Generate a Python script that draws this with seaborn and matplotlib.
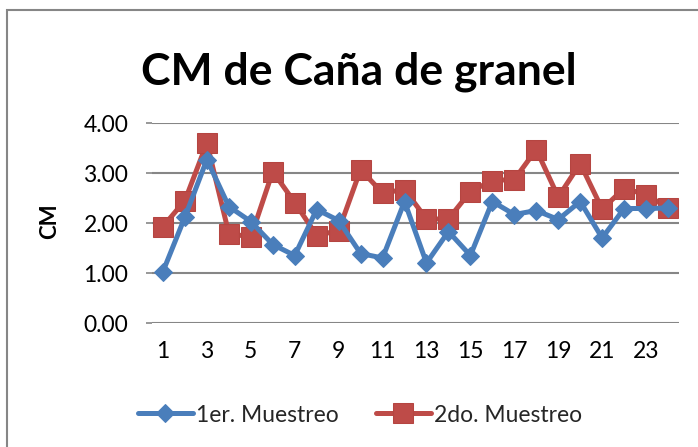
import matplotlib
matplotlib.use("Agg")
import matplotlib.pyplot as plt
import seaborn as sns
import pandas as pd
from matplotlib.patches import Rectangle

muestra = list(range(1, 25))
primer = [1.03, 2.12, 3.27, 2.33, 2.03, 1.57, 1.35, 2.27, 2.05, 1.39, 1.30, 2.43,
          1.20, 1.83, 1.35, 2.43, 2.17, 2.25, 2.07, 2.43, 1.70, 2.29, 2.29, 2.30]
segundo = [1.93, 2.45, 3.60, 1.79, 1.72, 3.03, 2.41, 1.75, 1.85, 3.07, 2.60, 2.67,
           2.08, 2.08, 2.63, 2.85, 2.87, 3.47, 2.52, 3.19, 2.28, 2.69, 2.57, 2.30]
series_names = ["1er. Muestreo", "2do. Muestreo"]
title = "CM de Caña de granel"
ylabel = "CM"
yticks = [0, 1, 2, 3, 4]
xticks = list(range(1, 24, 2))

sns.set_theme(style="white")
plt.rcParams["font.family"] = ["Lato", "DejaVu Sans"]

df1 = pd.DataFrame({"x": muestra, "y": primer})
df2 = pd.DataFrame({"x": muestra, "y": segundo})

W, H = 698, 447
fig = plt.figure(figsize=(W / 100, H / 100), dpi=100)
ax = fig.add_axes([152 / W, 1 - 323 / H, (679 - 152) / W, (323 - 123) / H])

blue = "#4A7EBB"
red = "#BE4B48"
sns.lineplot(data=df1, x="x", y="y", ax=ax, color=blue, lw=3.6, marker="D",
             markersize=9.5, markeredgecolor=blue, label=series_names[0], zorder=3)
sns.lineplot(data=df2, x="x", y="y", ax=ax, color=red, lw=3.6, marker="s",
             markersize=14, markeredgecolor="#B54541", label=series_names[1], zorder=2)

ax.set_xlim(0.5, 24.5)
ax.set_ylim(0, 4)
ax.set_yticks(yticks)
ax.set_yticklabels([f"{v:.2f}" for v in yticks])
ax.set_xticks(xticks)
ax.set_xticklabels([str(v) for v in xticks])
ax.grid(axis="y", color="#868686", lw=1.5)
ax.set_axisbelow(True)
for s in ax.spines.values():
    s.set_visible(False)
ax.tick_params(axis="y", length=4, width=1.2, color="#868686", pad=13, labelsize=16.5,
               labelcolor="black", left=True)
ax.tick_params(axis="x", length=0, pad=13, labelsize=16.5, labelcolor="black")
ax.set_xlabel("")
ax.set_ylabel(ylabel, fontsize=16, fontweight="bold", color="black")
ax.yaxis.set_label_coords(-0.174, 0.51)

ax.legend_.remove()
h, l = ax.get_legend_handles_labels()
fig.legend(h, l, loc="center", bbox_to_anchor=(360 / W, 1 - 415 / H), ncol=2,
           frameon=False, fontsize=16.5, handlelength=2.4, handletextpad=0.15,
           columnspacing=1.6)

fig.text(359 / W, 1 - 85 / H, title, ha="center", va="baseline", fontsize=32,
         fontweight="bold", color="black")

fig.patches.append(Rectangle((7 / W, -0.1), 1.2, (1 - 10 / H) + 0.1,
                             transform=fig.transFigure, fill=False,
                             edgecolor="#868686", lw=1.5))

fig.savefig("out.png", dpi=100)
